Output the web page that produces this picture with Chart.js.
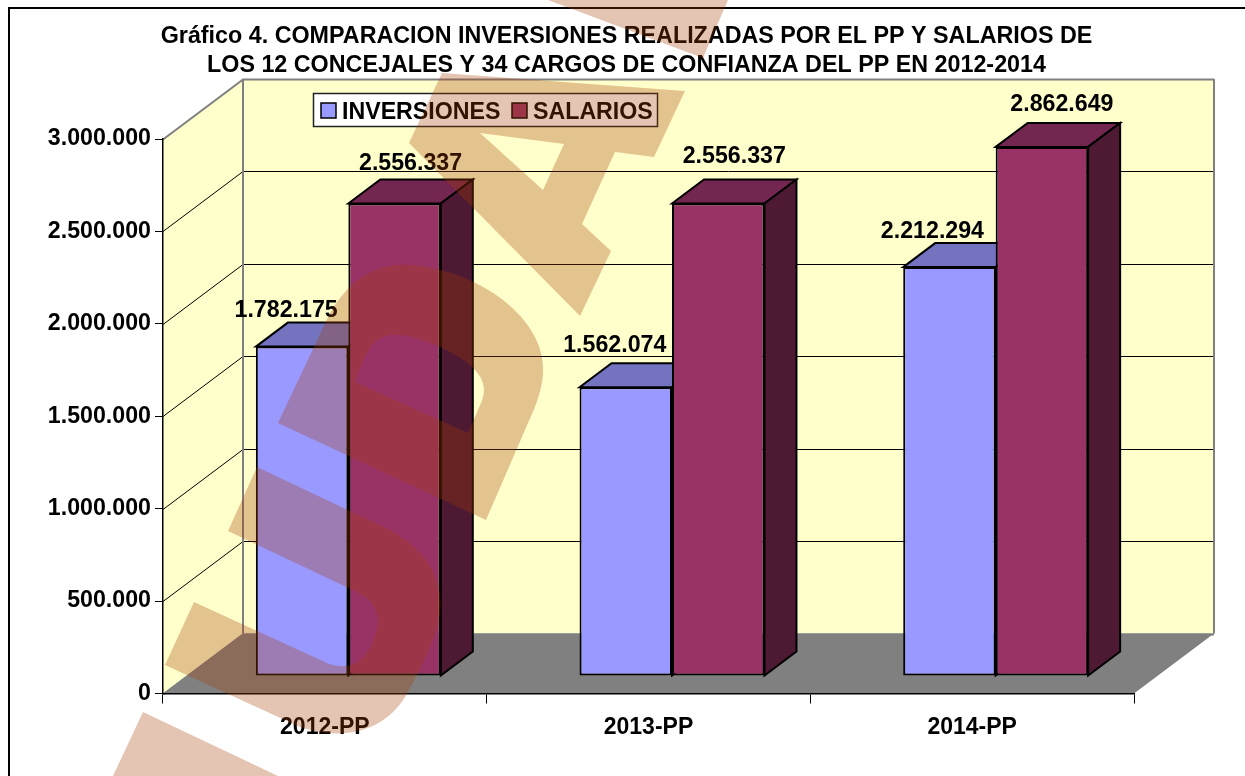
<!DOCTYPE html>
<html><head><meta charset="utf-8">
<style>html,body{margin:0;padding:0;background:#fff;overflow:hidden}canvas{display:block}</style>
<script src="https://cdn.jsdelivr.net/npm/chart.js@4"></script>
</head><body><canvas id="c" width="1245" height="776"></canvas>
<script>
const categories = ['2012-PP','2013-PP','2014-PP'];
const inversiones = [1782175,1562074,2212294];
const salarios = [2556337,2556337,2862649];
const titleLines = ['Gráfico 4. COMPARACION INVERSIONES REALIZADAS POR EL PP Y SALARIOS DE','LOS 12 CONCEJALES Y 34 CARGOS DE CONFIANZA DEL PP EN 2012-2014'];
const yTicks = [0,500000,1000000,1500000,2000000,2500000,3000000];

const FONT = '"Liberation Sans", Arial, sans-serif';
const fmt = v => String(v).replace(/\B(?=(\d{3})+(?!\d))/g,'.');
const WALL = {dx:80, dy:60}, BAR = {dx:32, dy:24}, SHIFT = {dx:23.5, dy:17.5};
const labelNudge = [[[-16,-36],[-11,-42],[-17,-36]],[[16,-40],[16,-47],[20,-42]]];
const sideColors = [{top:'#7373BF',side:'#4D4D80'},{top:'#732650',side:'#4D1933'}];

function poly(ctx,pts,fill,stroke,lw){
  ctx.beginPath();pts.forEach((p,i)=>i?ctx.lineTo(p[0],p[1]):ctx.moveTo(p[0],p[1]));ctx.closePath();
  if(fill){ctx.fillStyle=fill;ctx.fill();}
  if(stroke){ctx.strokeStyle=stroke;ctx.lineWidth=lw||1;ctx.stroke();}
}
const scene = {
  id:'scene',
  afterLayout(chart){ chart.titleBlock.left=0; chart.titleBlock.right=1253; },
  beforeDraw(chart){
    const {ctx,chartArea:a,scales:{y}}=chart, {dx,dy}=WALL;
    ctx.save();
    ctx.fillStyle='#fff';ctx.fillRect(0,0,1245,776);
    ctx.fillStyle='#000';ctx.fillRect(8,7,1237,2);ctx.fillRect(8,7,2,769);
    // back wall, side wall, floor
    poly(ctx,[[a.left+dx,a.top-dy],[a.right+dx,a.top-dy],[a.right+dx,a.bottom-dy],[a.left+dx,a.bottom-dy]],'#FFFFCC');
    poly(ctx,[[a.left,a.top],[a.left+dx,a.top-dy],[a.left+dx,a.bottom-dy],[a.left,a.bottom]],'#FFFFCC');
    poly(ctx,[[a.left,a.bottom],[a.left+dx,a.bottom-dy],[a.right+dx,a.bottom-dy],[a.right,a.bottom]],'#808080');
    // gridlines
    yTicks.forEach(v=>{
      const p=Math.round(y.getPixelForValue(v))+.5, edge=(v===0||v===3000000);
      ctx.strokeStyle=edge?'#808080':'#000';
      ctx.lineWidth=edge?2:1;
      ctx.beginPath();ctx.moveTo(a.left,p);
      ctx.lineTo(a.left+dx,p-dy);
      ctx.lineTo(a.right+dx,p-dy);
      ctx.stroke();
    });
    ctx.strokeStyle='#808080';ctx.lineWidth=2;
    ctx.beginPath();ctx.moveTo(a.left+dx,a.top-dy);ctx.lineTo(a.left+dx,a.bottom-dy);ctx.stroke();
    ctx.beginPath();ctx.moveTo(a.right+dx,a.top-dy);ctx.lineTo(a.right+dx,a.bottom-dy);ctx.stroke();
    ctx.restore();
  },
  beforeDatasetsDraw(chart){
    const {ctx}=chart;
    ctx.save();
    ctx.translate(SHIFT.dx,-SHIFT.dy);
    chart.data.datasets.forEach((ds,di)=>{
      chart.getDatasetMeta(di).data.forEach(b=>{
        const l=b.x-b.width/2,r=b.x+b.width/2,t=b.y,bt=b.base,{dx,dy}=BAR;
        poly(ctx,[[l,t],[l+dx,t-dy],[r+dx,t-dy],[r,t]],sideColors[di].top,'#000',2);
        poly(ctx,[[r,t],[r+dx,t-dy],[r+dx,bt-dy],[r,bt]],sideColors[di].side,'#000',2);
      });
    });
  },
  afterDatasetsDraw(chart){
    const {ctx}=chart;
    ctx.restore();
    ctx.save();
    ctx.font='bold 23.2px '+FONT;ctx.fillStyle='#000';ctx.textAlign='center';ctx.textBaseline='middle';
    chart.data.datasets.forEach((ds,di)=>{
      chart.getDatasetMeta(di).data.forEach((b,i)=>{
        const n=labelNudge[di][i];
        ctx.fillText(fmt(ds.data[i]),b.x+SHIFT.dx+n[0],b.y-SHIFT.dy+n[1]);
      });
    });
    // legend
    ctx.fillStyle='#fff';ctx.fillRect(313,93,345,34);
    ctx.strokeStyle='#222';ctx.lineWidth=1.5;ctx.strokeRect(313.5,93.5,344,33);
    ctx.textAlign='left';ctx.textBaseline='alphabetic';
    const pos=[{x:321,t:342},{x:512,t:533}];
    chart.data.datasets.forEach((ds,di)=>{
      ctx.fillStyle=ds.backgroundColor;ctx.fillRect(pos[di].x,103,15,15);
      ctx.strokeStyle='#000';ctx.lineWidth=1.5;ctx.strokeRect(pos[di].x,103,15,15);
      ctx.fillStyle='#000';ctx.fillText(ds.label,pos[di].t,119);
    });
    ctx.restore();
  },
  afterDraw(chart){
    const {ctx}=chart;
    ctx.save();
    ctx.fillStyle='rgba(165,58,0,0.3)';
    // A
    let p=new Path2D();
    [[442,73],[685,91],[654,157],[615,152],[582,224],[611,251],[580,316],[409,143]].forEach((q,i)=>i?p.lineTo(q[0],q[1]):p.moveTo(q[0],q[1]));
    p.closePath();
    p.moveTo(480,133);p.lineTo(564,144);p.lineTo(543,190);p.closePath();
    ctx.fill(p,'evenodd');
    // top wedge
    p=new Path2D();p.moveTo(548,0);p.lineTo(703,58);p.lineTo(728,0);p.closePath();ctx.fill(p);
    // D
    p=new Path2D();
    p.moveTo(278,423);p.lineTo(330,313);
    p.bezierCurveTo(350,278,378,262,410,265);
    p.bezierCurveTo(480,270,548,320,543,375);
    p.bezierCurveTo(541,395,533,412,528,423);
    p.lineTo(486,520);p.closePath();
    p.moveTo(355,382);p.lineTo(468,433);p.lineTo(481,403);
    p.bezierCurveTo(492,380,472,361,440,347);
    p.bezierCurveTo(405,332,385,330,372,345);
    p.bezierCurveTo(364,356,360,368,355,382);p.closePath();
    ctx.fill(p,'evenodd');
    // S
    p=new Path2D();
    p.moveTo(257,467);p.lineTo(390,530);
    p.bezierCurveTo(430,552,448,585,438,625);
    p.bezierCurveTo(430,650,418,675,405,697);
    p.bezierCurveTo(385,730,345,742,300,727);
    p.lineTo(165,665);p.lineTo(194,602);p.lineTo(327,663);
    p.bezierCurveTo(350,672,368,662,376,632);
    p.bezierCurveTo(382,612,372,600,357,592);
    p.lineTo(228,531);p.closePath();
    ctx.fill(p);
    // lower band
    p=new Path2D();p.moveTo(143,712);p.lineTo(278,776);p.lineTo(113,776);p.closePath();ctx.fill(p);
    ctx.restore();
  }
};

new Chart(document.getElementById('c'),{
  type:'bar',
  data:{labels:categories,datasets:[
    {label:'INVERSIONES',data:inversiones,backgroundColor:'#9999FF',borderColor:'#000',borderWidth:2,borderSkipped:false,categoryPercentage:0.5714,barPercentage:1},
    {label:'SALARIOS',data:salarios,backgroundColor:'#993366',borderColor:'#000',borderWidth:2,borderSkipped:false,categoryPercentage:0.5714,barPercentage:1}
  ]},
  options:{
    responsive:false,animation:false,devicePixelRatio:1,
    layout:{padding:{right:111,left:0,top:0,bottom:0}},
    plugins:{
      legend:{display:false},tooltip:{enabled:false},
      title:{display:true,text:titleLines,color:'#000',font:{family:FONT,size:23.3,weight:'bold',lineHeight:1.245},padding:{top:22,bottom:59}}
    },
    scales:{
      x:{offset:true,
        afterFit(s){s.height=82.5;},
        grid:{drawOnChartArea:false,drawTicks:true,tickLength:10,tickColor:'#000',offset:true},
        border:{display:true,color:'#000',width:1.5},
        ticks:{color:'#000',padding:10,maxRotation:0,font:{family:FONT,size:23,weight:'bold'}}},
      y:{min:0,max:3000000,
        afterFit(s){s.width=163;},
        afterBuildTicks(s){s.ticks=yTicks.map(v=>({value:v}));},
        grid:{drawOnChartArea:false,drawTicks:true,tickLength:8,tickColor:'#000'},
        border:{display:true,color:'#000',width:1.5},
        ticks:{color:'#000',padding:4,callback:v=>fmt(v),font:{family:FONT,size:23.2,weight:'bold'}}}
    }
  },
  plugins:[scene]
});
</script></body></html>
